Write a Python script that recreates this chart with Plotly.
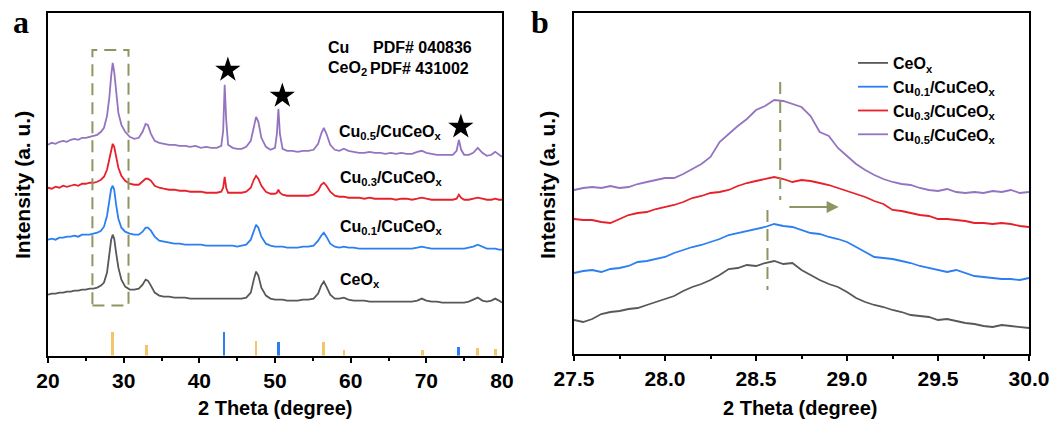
import plotly.graph_objects as go

# ---------------- Panel a data (2 theta grid, arbitrary intensity) ----------------
two_theta_a = [20.0, 20.5, 21.0, 21.5, 22.0, 22.5, 23.0, 23.5, 24.0, 24.5,
               25.0, 25.5, 26.0, 26.5, 27.0, 27.4, 27.8, 28.1, 28.35, 28.55,
               28.75, 29.0, 29.3, 29.7, 30.2, 30.8, 31.4, 32.0, 32.5, 32.9,
               33.2, 33.6, 34.1, 34.7, 35.3, 36.0, 36.7, 37.4, 38.1, 38.8,
               39.5, 40.2, 40.9, 41.6, 42.3, 42.9, 43.15, 43.35, 43.55, 43.8,
               44.4, 45.0, 45.6, 46.2, 46.8, 47.2, 47.5, 47.8, 48.2, 48.8,
               49.4, 50.0, 50.25, 50.45, 50.65, 51.0, 51.6, 52.3, 53.0, 53.7,
               54.4, 55.1, 55.7, 56.1, 56.45, 56.8, 57.3, 57.9, 58.5, 59.1,
               59.7, 60.4, 61.1, 61.8, 62.5, 63.2, 63.9, 64.6, 65.3, 66.0,
               66.7, 67.4, 68.1, 68.8, 69.4, 70.0, 70.7, 71.4, 72.1, 72.8,
               73.5, 74.0, 74.3, 74.6, 75.0, 75.6, 76.2, 76.8, 77.4, 78.0,
               78.6, 79.1, 79.6, 80.0]

ceox_a = [61, 62, 62, 63, 63, 64, 64, 65, 65, 66,
          66, 67, 67, 68, 70, 73, 83, 100, 116, 121,
          117, 103, 88, 76, 69, 66, 66, 67, 71, 76,
          75, 70, 63, 60, 59, 59, 58, 58, 58, 57,
          57, 57, 57, 57, 57, 57, 57, 57, 57, 57,
          57, 57, 57, 58, 63, 76, 84, 80, 68, 60,
          57, 56, 56, 56, 56, 56, 55, 55, 55, 56,
          56, 57, 62, 70, 74, 69, 61, 57, 57, 58,
          56, 55, 55, 55, 54, 54, 54, 54, 54, 54,
          54, 54, 54, 55, 57, 55, 54, 54, 53, 53,
          53, 53, 53, 53, 53, 54, 56, 58, 55, 54,
          55, 57, 55, 53]

cu01_a = [116, 117, 116, 118, 118, 119, 119, 120, 119, 121,
          121, 121, 122, 123, 125, 129, 140, 155, 167, 170,
          166, 151, 137, 128, 124, 122, 121, 121, 124, 128,
          128, 125, 119, 115, 114, 113, 112, 112, 111, 111,
          111, 111, 110, 110, 110, 110, 110, 110, 110, 110,
          110, 109, 110, 111, 116, 126, 131, 128, 119, 112,
          110, 109, 109, 109, 109, 109, 108, 108, 108, 109,
          109, 110, 115, 120, 123, 119, 112, 109, 108, 109,
          108, 108, 107, 107, 107, 107, 107, 107, 107, 107,
          107, 107, 107, 108, 109, 108, 107, 107, 107, 107,
          107, 107, 107, 107, 107, 108, 109, 111, 109, 107,
          107, 107, 106, 106]

cu03_a = [168, 167, 169, 168, 170, 169, 170, 171, 170, 172,
          172, 173, 173, 174, 176, 179, 186, 197, 208, 212,
          209, 199, 188, 180, 175, 172, 171, 171, 174, 177,
          177, 175, 170, 168, 167, 166, 166, 165, 165, 164,
          164, 164, 163, 163, 163, 164, 168, 179, 168, 163,
          163, 163, 163, 164, 168, 176, 180, 177, 170, 164,
          162, 162, 163, 166, 163, 161, 160, 160, 160, 160,
          160, 161, 165, 171, 173, 170, 164, 160, 159, 159,
          158, 158, 158, 157, 158, 157, 157, 157, 157, 156,
          157, 157, 156, 157, 158, 157, 156, 156, 156, 156,
          156, 157, 161, 158, 156, 156, 157, 158, 157, 156,
          156, 157, 156, 156]

cu05_a = [211, 213, 212, 214, 215, 214, 216, 217, 216, 218,
          218, 219, 220, 221, 224, 228, 240, 258, 280, 293,
          284, 262, 243, 231, 224, 219, 217, 218, 224, 232,
          231, 222, 215, 213, 212, 211, 211, 210, 210, 209,
          210, 208, 209, 208, 208, 210, 225, 271, 236, 211,
          208, 207, 207, 209, 215, 230, 239, 234, 218, 209,
          206, 208, 222, 247, 222, 207, 205, 205, 204, 205,
          205, 206, 212, 222, 228, 222, 211, 206, 205, 207,
          205, 204, 203, 203, 204, 203, 203, 202, 203, 202,
          203, 202, 202, 204, 205, 203, 202, 201, 201, 201,
          201, 205, 216, 206, 201, 201, 203, 208, 203, 200,
          201, 204, 201, 199]

# Reference patterns (PDF cards)
ceo2_ref_pos = [28.53, 33.03, 47.48, 56.40, 59.10, 69.50, 76.80, 79.15]
ceo2_ref_int = [24, 11, 15, 14, 6, 6, 8, 7]
cu_ref_pos = [43.28, 50.48, 74.25]
cu_ref_int = [24, 14, 9]

# Star markers over Cu peaks
star_pos = [43.77, 50.97, 74.56]
star_int = [286, 260, 229]

# ---------------- Panel b data (zoom of the CeO2 (111) peak) ----------------
two_theta_b = [27.50, 27.55, 27.60, 27.65, 27.70, 27.75, 27.80, 27.85, 27.90, 27.95,
               28.00, 28.05, 28.10, 28.15, 28.20, 28.25, 28.30, 28.35, 28.40, 28.45,
               28.50, 28.55, 28.60, 28.65, 28.70, 28.75, 28.80, 28.85, 28.90, 28.95,
               29.00, 29.05, 29.10, 29.15, 29.20, 29.25, 29.30, 29.35, 29.40, 29.45,
               29.50, 29.55, 29.60, 29.65, 29.70, 29.75, 29.80, 29.85, 29.90, 29.95,
               30.00]

ceox_b = [34, 32, 35, 40, 42, 43, 45, 46, 49, 52,
          55, 58, 63, 67, 70, 74, 79, 85, 86, 89,
          88, 91, 93, 90, 91, 84, 79, 74, 70, 67,
          62, 56, 52, 49, 47, 44, 42, 39, 38, 37,
          34, 35, 33, 31, 30, 28, 27, 29, 28, 27,
          26]

cu01_b = [81, 83, 84, 82, 85, 86, 88, 92, 93, 95,
          97, 101, 104, 107, 109, 112, 115, 119, 121, 123,
          125, 127, 130, 128, 127, 124, 121, 120, 117, 115,
          112, 107, 102, 97, 96, 95, 93, 91, 88, 86,
          84, 82, 84, 81, 78, 77, 76, 75, 75, 74,
          76]

cu03_b = [135, 134, 134, 132, 131, 135, 139, 141, 142, 145,
          147, 149, 152, 156, 158, 161, 162, 164, 168, 171,
          173, 175, 177, 175, 172, 174, 173, 171, 169, 166,
          163, 160, 157, 153, 150, 144, 143, 141, 139, 138,
          135, 135, 134, 133, 131, 131, 130, 131, 130, 128,
          127]

cu05_b = [164, 166, 167, 166, 168, 166, 167, 170, 172, 174,
          176, 176, 180, 185, 190, 197, 212, 220, 228, 235,
          244, 248, 254, 253, 250, 247, 238, 222, 218, 206,
          198, 190, 184, 179, 175, 172, 170, 169, 166, 164,
          163, 165, 162, 161, 162, 161, 163, 162, 164, 161,
          162]

series_names = ["CeO<sub>x</sub>", "Cu<sub>0.1</sub>/CuCeO<sub>x</sub>",
                "Cu<sub>0.3</sub>/CuCeO<sub>x</sub>", "Cu<sub>0.5</sub>/CuCeO<sub>x</sub>"]
colors = ["#585858", "#2b7ff2", "#e8202a", "#9474c0"]
ref_orange = "#f5c56b"
olive = "#8f9560"

FONT = "Liberation Sans, Arial, sans-serif"

fig = go.Figure()

# Panel a curves
for ys, name, c in zip([ceox_a, cu01_a, cu03_a, cu05_a], series_names, colors):
    fig.add_trace(go.Scatter(x=two_theta_a, y=ys, mode="lines", name=name,
                             line=dict(color=c, width=1.8), showlegend=False,
                             xaxis="x", yaxis="y"))

# Reference bars
fig.add_trace(go.Bar(x=ceo2_ref_pos, y=ceo2_ref_int, width=0.35, marker_color=ref_orange,
                     marker_line_width=0, showlegend=False, xaxis="x", yaxis="y"))
fig.add_trace(go.Bar(x=cu_ref_pos, y=cu_ref_int, width=0.35, marker_color="#2b7ff2",
                     marker_line_width=0, showlegend=False, xaxis="x", yaxis="y"))

# Stars
fig.add_trace(go.Scatter(x=star_pos, y=star_int, mode="markers",
                         marker=dict(symbol="star", size=19, color="black"),
                         showlegend=False, xaxis="x", yaxis="y"))

# Panel b curves
for ys, name, c in zip([ceox_b, cu01_b, cu03_b, cu05_b], series_names, colors):
    fig.add_trace(go.Scatter(x=two_theta_b, y=ys, mode="lines", name=name,
                             line=dict(color=c, width=1.8), showlegend=True,
                             xaxis="x2", yaxis="y2"))

axis_common = dict(showline=True, linecolor="black", linewidth=2, mirror=True,
                   showgrid=False, zeroline=False, automargin=False)

tick_font = dict(family=FONT, size=21, color="black", weight="bold")

fig.update_layout(
    template="none",
    width=1052, height=423,
    margin=dict(l=0, r=0, t=0, b=0, autoexpand=False),
    paper_bgcolor="white", plot_bgcolor="white",
    bargap=0,
    xaxis=dict(domain=[48/1052, 502/1052], range=[20, 80], dtick=10, tick0=20,
               ticks="outside", ticklen=5, tickwidth=2, tickcolor="black",
               minor=dict(ticks="outside", ticklen=3, tickwidth=2, dtick=5, tickcolor="black"),
               tickfont=tick_font, anchor="y", **axis_common),
    yaxis=dict(domain=[1-355.5/423, 1-13/423], range=[0, 343], showticklabels=False,
               ticks="", anchor="x", **axis_common),
    xaxis2=dict(domain=[574/1052, 1029/1052], range=[27.5, 30.0], dtick=0.5, tick0=27.5,
                tickformat=".1f",
                ticks="outside", ticklen=5, tickwidth=2, tickcolor="black",
                minor=dict(ticks="outside", ticklen=3, tickwidth=2, dtick=0.25, tickcolor="black"),
                tickfont=tick_font, anchor="y2", **axis_common),
    yaxis2=dict(domain=[1-354/423, 1-13/423], range=[0, 341], showticklabels=False,
                ticks="", anchor="x2", **axis_common),
    legend=dict(x=853/1052, y=1-46/423, xanchor="left", yanchor="top",
                bgcolor="rgba(0,0,0,0)", borderwidth=0, tracegroupgap=0,
                font=dict(family=FONT, size=16, color="black", weight="bold")),
)

# Dashed box in panel a
fig.add_shape(type="rect", xref="x", yref="y", x0=25.87, x1=30.64, y0=50, y1=306,
              line=dict(color=olive, width=2, dash="12px,7px"))

# Dashed guide lines and arrow in panel b
fig.add_shape(type="line", xref="x2", yref="y2", x0=28.633, x1=28.633, y0=272, y1=154,
              line=dict(color=olive, width=2, dash="12px,7px"))
fig.add_shape(type="line", xref="x2", yref="y2", x0=28.563, x1=28.563, y0=144, y1=64,
              line=dict(color=olive, width=2, dash="12px,7px"))
fig.add_annotation(x=28.954, y=147, ax=28.675, ay=147, xref="x2", yref="y2",
                   axref="x2", ayref="y2", text="", showarrow=True,
                   arrowhead=2, arrowsize=1.2, arrowwidth=2, arrowcolor=olive)

lab_font = dict(family=FONT, size=16, color="black", weight="bold")

# PDF text
fig.add_annotation(x=56.71, y=308, xref="x", yref="y", text="Cu", showarrow=False,
                   xanchor="left", yanchor="middle", font=lab_font)
fig.add_annotation(x=62.68, y=308, xref="x", yref="y", text="PDF# 040836", showarrow=False,
                   xanchor="left", yanchor="middle", font=lab_font)
fig.add_annotation(x=56.71, y=287, xref="x", yref="y", text="CeO<sub>2</sub>", showarrow=False,
                   xanchor="left", yanchor="middle", font=lab_font)
fig.add_annotation(x=62.28, y=287, xref="x", yref="y", text="PDF# 431002", showarrow=False,
                   xanchor="left", yanchor="middle", font=lab_font)

# Curve labels panel a
label_x = [58.26, 58.26, 58.26, 58.17]
label_y = [75, 128, 177, 223]
for name, lx, ly in zip(series_names, label_x, label_y):
    fig.add_annotation(x=lx, y=ly, xref="x", yref="y", text=name, showarrow=False,
                       xanchor="left", yanchor="middle", font=lab_font)

# Axis titles
title_font = dict(family=FONT, size=20, color="black", weight="bold")
fig.add_annotation(x=275/1052, y=1-408/423, xref="paper", yref="paper", text="2 Theta (degree)",
                   showarrow=False, xanchor="center", yanchor="middle", font=title_font)
fig.add_annotation(x=800/1052, y=1-408/423, xref="paper", yref="paper", text="2 Theta (degree)",
                   showarrow=False, xanchor="center", yanchor="middle", font=title_font)
ytitle_font = dict(family=FONT, size=21, color="black", weight="bold")
fig.add_annotation(x=22/1052, y=1-185/423, xref="paper", yref="paper", text="Intensity (a. u.)",
                   showarrow=False, textangle=-90, xanchor="center", yanchor="middle", font=ytitle_font)
fig.add_annotation(x=547/1052, y=1-185/423, xref="paper", yref="paper", text="Intensity (a. u.)",
                   showarrow=False, textangle=-90, xanchor="center", yanchor="middle", font=ytitle_font)

# Panel letters
letter_font = dict(family="Liberation Serif, Times New Roman, serif", size=32, color="black", weight="bold")
fig.add_annotation(x=21/1052, y=1-22/423, xref="paper", yref="paper", text="a", showarrow=False,
                   xanchor="center", yanchor="middle", font=letter_font)
fig.add_annotation(x=540/1052, y=1-22/423, xref="paper", yref="paper", text="b", showarrow=False,
                   xanchor="center", yanchor="middle", font=letter_font)

fig.write_html("out.html", config={"displayModeBar": False},
               post_script="document.body.style.margin='0';document.body.style.overflow='hidden';")
